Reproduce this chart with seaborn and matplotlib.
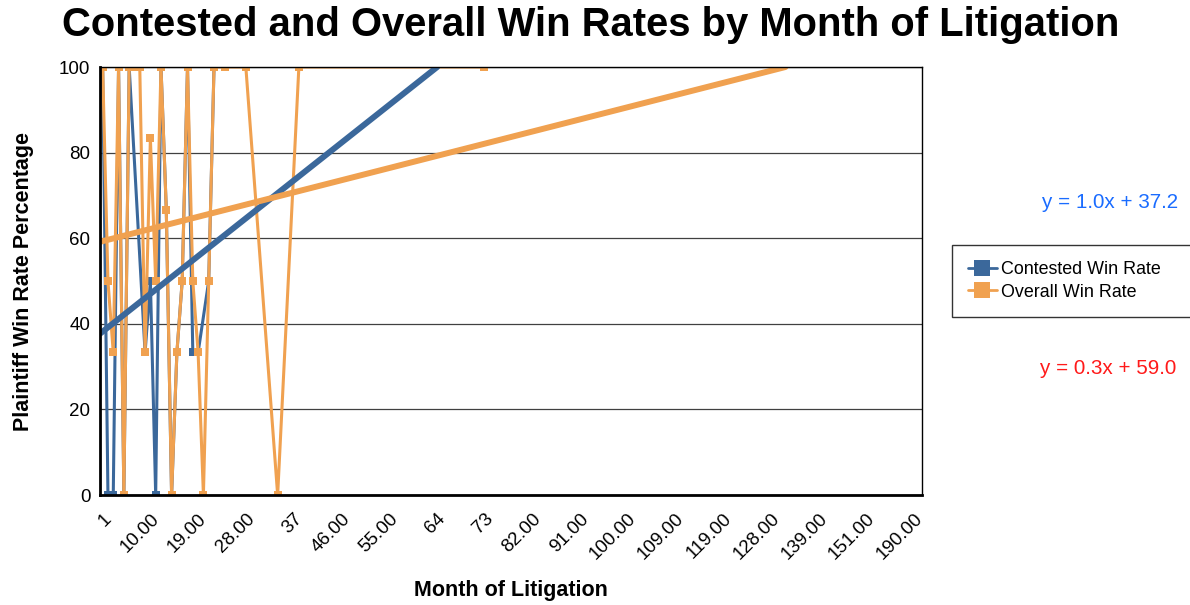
import pandas as pd
import matplotlib.pyplot as plt
import seaborn as sns
from matplotlib.lines import Line2D
from matplotlib.transforms import ScaledTranslation

# x axis is a category axis of months, only every 9th one is labelled
n_months = 155
tick_labels = ['1', '10.00', '19.00', '28.00', '37', '46.00', '55.00', '64', '73',
               '82.00', '91.00', '100.00', '109.00', '119.00', '128.00', '139.00',
               '151.00', '190.00']

# category position of each point and its win rate (%)
contested_pos = [0, 1, 2, 3, 4, 5, 8, 9, 10, 11, 12, 13, 14, 15, 16, 17, 18, 20, 21]
contested_rate = [100, 0, 0, 100, 0, 100, 33.3, 50, 0, 100, 66.7, 0, 33.3, 50, 100,
                  33.3, 33.3, 50, 100]
overall_pos = [0, 1, 2, 3, 4, 5, 6, 7, 8, 9, 10, 11, 12, 13, 14, 15, 16, 17, 18, 19,
               20, 21, 23, 27, 33, 37, 72]
overall_rate = [100, 50, 33.3, 100, 0, 100, 100, 100, 33.3, 83.3, 50, 100, 66.7, 0,
                33.3, 50, 100, 50, 33.3, 0, 50, 100, 100, 100, 0, 100, 100]

# linear trend lines (slope, intercept), x counted from 1
contested_trend = (0.98, 37.2)
overall_trend = (0.316, 59.0)
trend_labels = ['y = 1.0x + 37.2', 'y = 0.3x + 59.0']

series_names = ['Contested Win Rate', 'Overall Win Rate']
blue = '#3b689b'
orange = '#f0a150'

df = pd.concat([
    pd.DataFrame({'pos': contested_pos, 'rate': contested_rate, 'series': series_names[0]}),
    pd.DataFrame({'pos': overall_pos, 'rate': overall_rate, 'series': series_names[1]}),
])


def trend_frame(trend):
    m, b = trend
    x0 = 0.5
    x1 = (100 - b) / m
    return pd.DataFrame({'pos': [x0 - 1, x1 - 1], 'rate': [b + m * x0, b + m * x1]})


sns.set_theme(style='white')
plt.rcParams['font.family'] = ['Liberation Sans', 'DejaVu Sans']
plt.rcParams['text.color'] = 'black'
plt.rcParams['axes.labelcolor'] = 'black'

fig = plt.figure(figsize=(11.9, 6.05), dpi=100)
ax = fig.add_axes([100 / 1190, 1 - 495 / 605, 822 / 1190, 428 / 605])

sns.lineplot(data=df, x='pos', y='rate', hue='series', hue_order=series_names,
             palette=[blue, orange], marker='s', markersize=5.5, markeredgewidth=0,
             linewidth=2.2, sort=False, legend=False, ax=ax)
sns.lineplot(data=trend_frame(contested_trend), x='pos', y='rate', color=blue,
             linewidth=4.3, solid_capstyle='round', ax=ax)
sns.lineplot(data=trend_frame(overall_trend), x='pos', y='rate', color=orange,
             linewidth=4.3, solid_capstyle='round', ax=ax)

ax.set_xlim(-0.5, n_months - 0.5)
ax.set_ylim(0, 100)
ax.set_yticks([0, 20, 40, 60, 80, 100])
ax.set_xticks(range(0, 9 * len(tick_labels), 9))
ax.set_xticklabels(tick_labels, rotation=45, ha='right', va='top', rotation_mode='anchor')
offset = ScaledTranslation(10 / 72, 0, fig.dpi_scale_trans)
for lab in ax.get_xticklabels():
    lab.set_transform(lab.get_transform() + offset)
ax.tick_params(axis='both', length=0, labelsize=13.5, colors='black')
ax.tick_params(axis='y', pad=7)
ax.tick_params(axis='x', pad=11)
ax.yaxis.grid(True, color='#404040', linewidth=0.9)
ax.set_axisbelow(True)
for side in ['top', 'right']:
    ax.spines[side].set_linewidth(1)
    ax.spines[side].set_color('black')
for side in ['left', 'bottom']:
    ax.spines[side].set_linewidth(2)
    ax.spines[side].set_color('black')

ax.set_xlabel('Month of Litigation', fontsize=15.5, fontweight='bold', labelpad=12)
ax.set_ylabel('Plaintiff Win Rate Percentage', fontsize=15.5, fontweight='bold', labelpad=18)
fig.suptitle('Contested and Overall Win Rates by Month of Litigation', fontsize=28.8,
             fontweight='bold', x=0.496, y=0.99)

handles = [Line2D([0], [0], color=c, linewidth=2, marker='s', markersize=12,
                  markeredgewidth=0) for c in [blue, orange]]
leg = fig.legend(handles, series_names, loc='upper left', mode='expand',
                 bbox_to_anchor=(952 / 1190, 1 - 317 / 605, 260 / 1190, 72 / 605),
                 fontsize=12.9, frameon=True, fancybox=False, borderpad=0.9,
                 labelspacing=0.3, handlelength=1.6, handletextpad=0.25,
                 borderaxespad=0)
leg.get_frame().set_edgecolor('black')
leg.get_frame().set_linewidth(1)

fig.text(1178 / 1190, 1 - 202 / 605, trend_labels[0], color='#1a6cff', fontsize=14.9,
         ha='right', va='center')
fig.text(1176 / 1190, 1 - 368 / 605, trend_labels[1], color='#ff1a1a', fontsize=14.9,
         ha='right', va='center')

fig.savefig('out.png', dpi=100)
